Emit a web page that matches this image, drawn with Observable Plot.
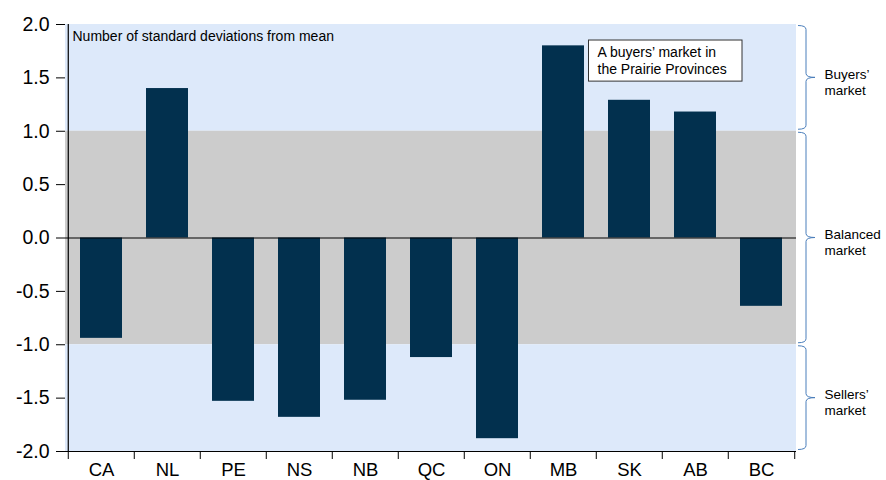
<!DOCTYPE html>
<html><head><meta charset="utf-8">
<script src="https://cdn.jsdelivr.net/npm/d3@7"></script>
<script src="https://cdn.jsdelivr.net/npm/@observablehq/plot@0.6"></script>
<style>body{margin:0;background:#fff;}</style>
</head><body><div id="chart"></div>
<script>
const provinces = ["CA","NL","PE","NS","NB","QC","ON","MB","SK","AB","BC"];
const deviations = [-0.94, 1.40, -1.53, -1.68, -1.52, -1.12, -1.88, 1.80, 1.29, 1.18, -0.64];
const yTicks = [-2, -1.5, -1, -0.5, 0, 0.5, 1, 1.5, 2];
const zoneNames = ["Buyers’\nmarket", "Balanced\nmarket", "Sellers’\nmarket"];
const zoneLow = [1, -1, -2];
const zoneHigh = [2, 1, -1];
const subtitle = "Number of standard deviations from mean";
const note = "A buyers’ market in\nthe Prairie Provinces";

const W = 886, H = 480, mL = 65, mR = 90, mT = 24, mB = 29;
const step = (W - mL - mR) / provinces.length;
const BLUE = "#dde9fa", GRAY = "#cccccc", BAR = "#02304e", BRACE = "#4a7ebb";

const data = provinces.map((p, i) => ({p, v: deviations[i]}));
const zones = zoneNames.map((n, i) => ({n, lo: zoneLow[i], hi: zoneHigh[i], fill: i === 1 ? GRAY : BLUE}));

function braces(index, scales, values, dim) {
  const g = d3.create("svg:g");
  const xr = dim.width - dim.marginRight;
  const x0 = xr + 2, x1 = xr + 10, x2 = xr + 19, r = 4;
  zones.forEach(z => {
    const yt = scales.y(z.hi) + 1.5, yb = scales.y(z.lo) - 1.5, ym = (yt + yb) / 2;
    const d = `M${x0},${yt} Q${x1},${yt} ${x1},${yt + r} L${x1},${ym - r} Q${x1},${ym} ${x2},${ym} Q${x1},${ym} ${x1},${ym + r} L${x1},${yb - r} Q${x1},${yb} ${x0},${yb}`;
    g.append("path").attr("d", d).attr("fill", "none").attr("stroke", BRACE).attr("stroke-width", 1);
  });
  return g.node();
}

function noteBox(index, scales) {
  const g = d3.create("svg:g");
  const x = scales.x("SK") - 7.5;
  const y1 = scales.y(1.85), y2 = scales.y(1.465);
  g.append("rect").attr("x", x).attr("y", y1).attr("width", 153.5).attr("height", y2 - y1)
    .attr("fill", "#fff").attr("stroke", "#333").attr("stroke-width", 1);
  return g.node();
}

const plot = Plot.plot({
  width: W, height: H, marginLeft: mL, marginRight: mR, marginTop: mT, marginBottom: mB,
  style: {fontFamily: "'Liberation Sans', Arial, sans-serif", fontSize: "19px", color: "#000", background: "#fff"},
  x: {domain: provinces, padding: 0, label: null},
  y: {domain: [-2, 2], label: null},
  color: {type: "identity"},
  marks: [
    Plot.rect(zones, {y1: "lo", y2: "hi", fill: "fill"}),
    Plot.barY(data, {x: "p", y: "v", fill: BAR, insetLeft: 12, insetRight: 12}),
    Plot.ruleY([0], {stroke: "#000", strokeWidth: 1}),
    Plot.ruleY([-2], {stroke: "#000", strokeWidth: 1.2}),
    Plot.ruleX(["CA"], {x: d => d, dx: -step / 2, y1: -2, y2: 2, stroke: "#000", strokeWidth: 1.2}),
    Plot.ruleX(provinces, {x: d => d, dx: -step / 2, y1: -2, y2: -2, insetBottom: -8, stroke: "#000"}),
    Plot.ruleX(["BC"], {x: d => d, dx: step / 2, y1: -2, y2: -2, insetBottom: -8, stroke: "#000"}),
    Plot.axisY({ticks: yTicks, tickFormat: d => d.toFixed(1), tickSize: 9, tickPadding: 7, fontSize: 19.5, label: null}),
    Plot.axisX({tickSize: 0, tickPadding: 11, fontSize: 18.5, label: null}),
    Plot.text([subtitle], {frameAnchor: "top-left", dx: 7, dy: 7, fontSize: 14, textAnchor: "start", lineAnchor: "top", fill: "#000"}),
    noteBox,
    Plot.text([note], {x: () => "SK", y: 1.85, dx: -32, textAnchor: "start", lineAnchor: "top", dy: 5, fontSize: 14, lineHeight: 1.19, fill: "#000"}),
    braces,
    Plot.text(zones, {y: d => (d.lo + d.hi) / 2, frameAnchor: "right", dx: 28, dy: 4, text: "n", textAnchor: "start", lineAnchor: "middle", fontSize: 13.5, lineHeight: 1.15, fill: "#000"})
  ]
});
document.getElementById("chart").appendChild(plot);
</script>
</body></html>
